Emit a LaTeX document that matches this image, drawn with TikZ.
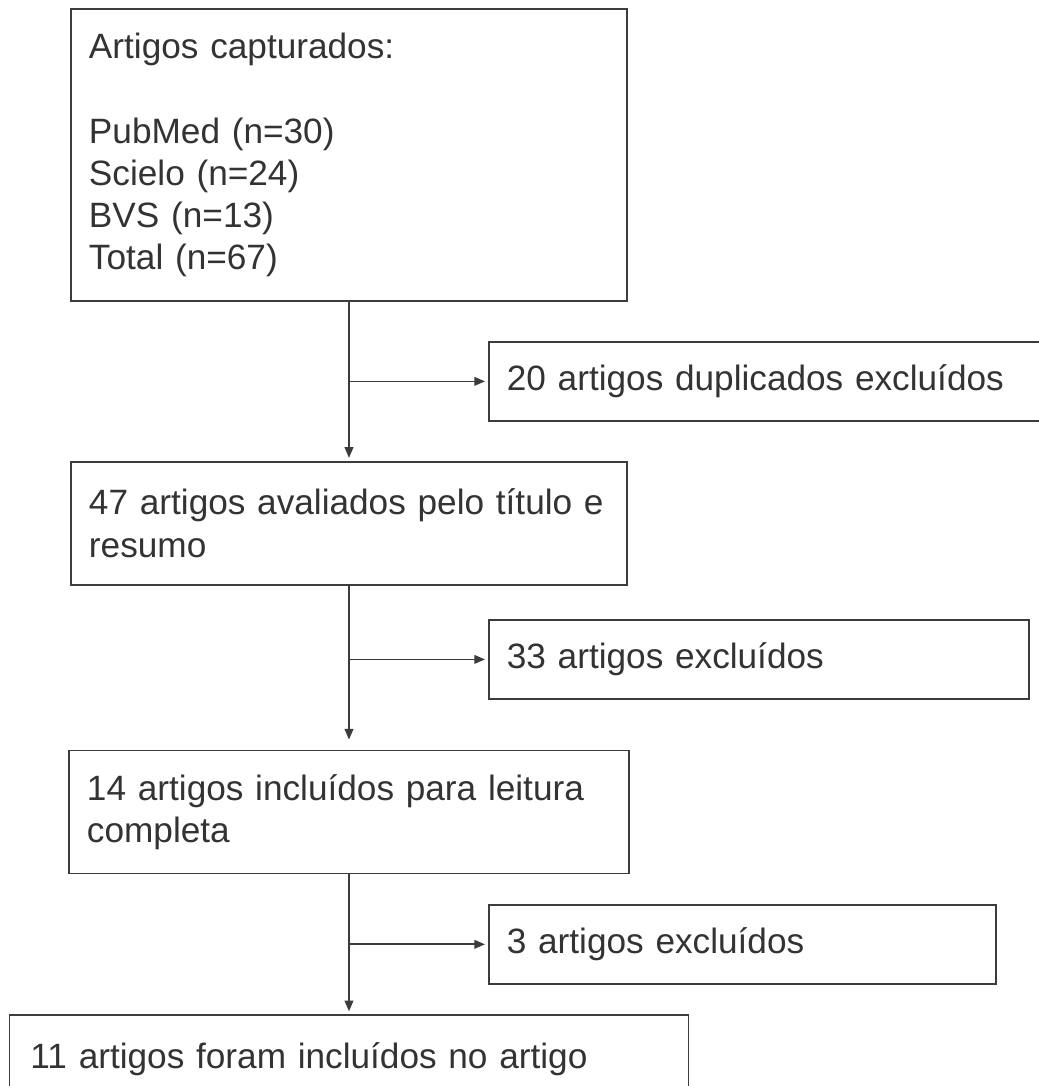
\documentclass[tikz,border=0pt]{standalone}
\usepackage{fontspec}
\setmainfont{Liberation Sans}
\usetikzlibrary{arrows.meta,positioning,calc}
\definecolor{inkgray}{HTML}{333333}
\definecolor{linegray}{HTML}{3C3C3C}
\newcommand{\boxfont}{\fontsize{26.4pt}{31.65pt}\selectfont}
\tikzset{
  stage/.style={rectangle, draw=linegray, line width=1.3pt, align=left, font=\boxfont, text=inkgray, inner xsep=13.5pt, inner ysep=0pt, text width=390pt, minimum height=92.25pt},
  excl/.style={stage, minimum height=59.25pt},
  arr/.style={-{Triangle[length=8pt,width=6.5pt]}, draw=linegray, line width=1.3pt, shorten >=2.25pt}
}

\begin{document}
\begin{tikzpicture}
\useasboundingbox (-261.75pt,-698.25pt) rectangle (517.5pt,116.25pt);
\node[stage, minimum height=219pt] (captured) at (0,0) {Artigos capturados:\\[31.65pt]PubMed (n=30)\\Scielo (n=24)\\BVS (n=13)\\Total (n=67)};
\node[stage, below=119.25pt of captured] (screened) {47 artigos avaliados pelo título e\\resumo};
\node[stage, text width=393pt, below=123pt of screened] (fulltext) {14 artigos incluídos para leitura\\completa};
\node[stage, text width=477.75pt, inner xsep=15.75pt, minimum height=66pt, below=105pt of fulltext] (included) {11 artigos foram incluídos no artigo};

\node[excl, anchor=west] (duplicates) at ($(captured.south)!0.5!(screened.north) + (104.25pt,0)$) {20 artigos duplicados excluídos};
\node[excl, text width=378pt, anchor=west] (excluded1) at ($(screened.south)!0.45!(fulltext.north) + (104.25pt,0)$) {33 artigos excluídos};
\node[excl, text width=353.25pt, anchor=west] (excluded2) at ($(fulltext.south)!0.5!(included.north) + (104.25pt,0)$) {3 artigos excluídos};

\draw[arr] (captured) -- (screened);
\draw[arr, shorten >=7.5pt] (screened) -- (fulltext);
\draw[arr] (fulltext) -- (included);
\draw[arr] (captured.south |- duplicates.west) -- (duplicates);
\draw[arr] (screened.south |- excluded1.west) -- (excluded1);
\draw[arr] (fulltext.south |- excluded2.west) -- (excluded2);
\end{tikzpicture}
\end{document}
